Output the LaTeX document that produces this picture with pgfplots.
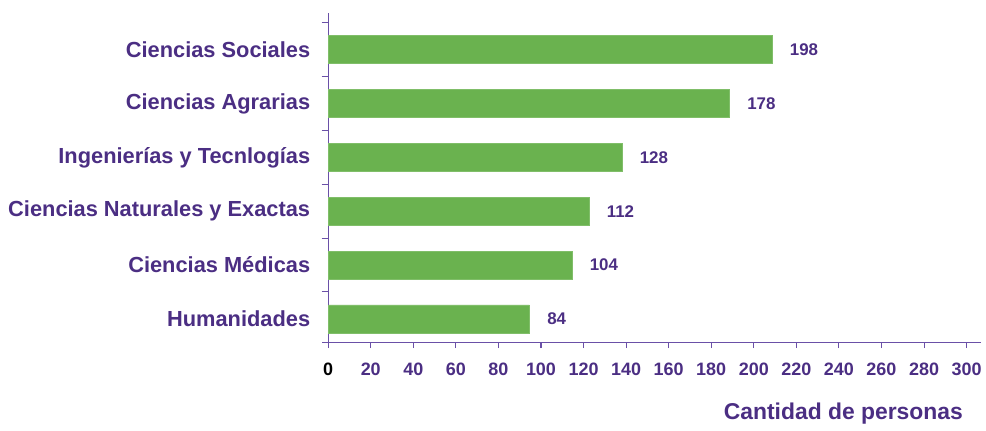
\documentclass[border=0pt]{standalone}
\usepackage{pgfplots}
\usepackage{pgfplotstable}
\pgfplotsset{compat=1.18}
\usepackage{fontspec}
\setmainfont{Liberation Sans}
\definecolor{txtpurple}{HTML}{4B2E83}
\definecolor{axpurple}{HTML}{6A50A7}
\definecolor{bargreen}{HTML}{6AB24F}
\pgfplotstableread{
pos len lab
0 94.5 84
1 114.5 104
2 122.5 112
3 138 128
4 188.5 178
5 208.5 198
}\datatable
\begin{document}
\begin{tikzpicture}
\begin{axis}[
  scale only axis,
  width=490.5pt, height=248pt,
  xmin=0, xmax=306.6,
  ymin=-0.444, ymax=5.685,
  axis x line=bottom, axis y line=left,
  axis line style={axpurple, line width=1pt, -},
  xbar, bar width=21pt,
  xtick={0,20,...,300},
  xticklabels={\textcolor{black}{0},20,40,60,80,100,120,140,160,180,200,220,240,260,280,300},
  x tick label style={font=\fontsize{13.5}{15}\selectfont\bfseries, text=txtpurple, yshift=-8pt},
  xtick style={axpurple, line width=0.8pt},
  tick align=outside,
  major tick length=4pt,
  ytick={0,...,5},
  yticklabels={Humanidades,Ciencias Médicas,Ciencias Naturales y Exactas,Ingenierías y Tecnlogías,Ciencias Agrarias,Ciencias Sociales},
  y tick label style={font=\fontsize{16.4}{18}\selectfont\bfseries, text=txtpurple, xshift=-6pt},
  major y tick style={draw=none},
  minor ytick={0.5,1.5,...,5.5},
  minor tick length=5pt,
  minor y tick style={draw=axpurple, line width=0.8pt},
  xlabel={Cantidad de personas},
  xlabel style={at={(rel axis cs:0.98,-0.2145)}, anchor=east, font=\fontsize{17.2}{19}\selectfont\bfseries, text=txtpurple},
  clip=false,
  nodes near coords={\pgfplotspointmeta},
  point meta=explicit symbolic,
  nodes near coords style={font=\fontsize{12.7}{14}\selectfont\bfseries, text=txtpurple, anchor=west, xshift=10pt},
]
\addplot[fill=bargreen, draw=bargreen!85!white] table[x=len, y=pos, meta=lab] {\datatable};
\draw[axpurple, line width=1pt] (rel axis cs:-0.009,0) -- (rel axis cs:0,0);
\path (rel axis cs:-0.503,-0.266) rectangle (rel axis cs:1.0046,1.039);
\end{axis}
\end{tikzpicture}
\end{document}
